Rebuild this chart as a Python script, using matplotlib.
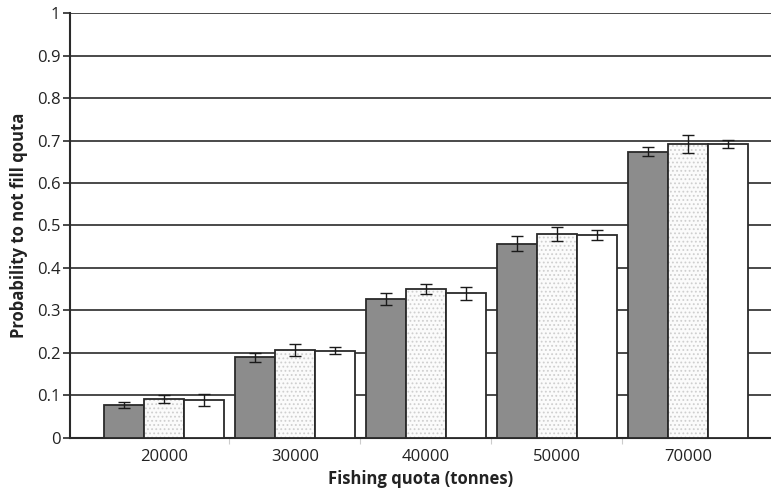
import matplotlib
matplotlib.use('Agg')
import matplotlib.pyplot as plt
import numpy as np

plt.rcParams['font.family'] = ['Open Sans', 'DejaVu Sans']
plt.rcParams['hatch.linewidth'] = 0.8

quotas = ['20000', '30000', '40000', '50000', '70000']

# three model runs per quota: mean probability and error
dark_vals = [0.077, 0.189, 0.327, 0.457, 0.674]
dark_err = [0.007, 0.0115, 0.014, 0.018, 0.0106]
dotted_vals = [0.091, 0.207, 0.350, 0.479, 0.692]
dotted_err = [0.010, 0.014, 0.011, 0.0165, 0.021]
white_vals = [0.088, 0.205, 0.340, 0.477, 0.692]
white_err = [0.014, 0.008, 0.0145, 0.012, 0.010]

x = np.arange(len(quotas))
w = 0.305

fig = plt.figure(figsize=(7.71, 4.92), dpi=100)
ax = fig.add_axes([0.0908, 0.1104, 0.9092, 0.8626])

ax.set_axisbelow(True)
ax.yaxis.grid(True, color='#3a3a3a', linewidth=1.3)

ekw = dict(ecolor='#1a1a1a', elinewidth=1.0, capsize=4, capthick=1.0)
ax.bar(x - w, dark_vals, w, yerr=dark_err, color='#8c8c8c',
       edgecolor='#2a2a2a', linewidth=1.3, error_kw=ekw, zorder=3)
# light dotted fill first, then the dark outline on top
ax.bar(x, dotted_vals, w, color='#fbfbfb', hatch='....',
       edgecolor='#cfcfcf', linewidth=0, zorder=3)
ax.bar(x, dotted_vals, w, yerr=dotted_err, fill=False,
       edgecolor='#2a2a2a', linewidth=1.3, error_kw=ekw, zorder=3)
ax.bar(x + w, white_vals, w, yerr=white_err, color='white',
       edgecolor='#2a2a2a', linewidth=1.3, error_kw=ekw, zorder=3)

ax.set_ylim(0, 1)
ax.set_yticks(np.arange(0, 1.01, 0.1))
ax.set_yticklabels(['0'] + ['%.1f' % v for v in np.arange(0.1, 0.95, 0.1)] + ['1'])
ax.set_xlim(-0.716, 4.635)
ax.set_xticks(x)
ax.set_xticklabels(quotas)
ax.set_xticks(np.arange(0.5, 4.0, 1.0), minor=True)

ax.tick_params(axis='y', direction='out', length=5, width=1.2, color='#2a2a2a',
               labelsize=12, labelcolor='#222222', pad=2)
ax.tick_params(axis='x', which='major', length=0, labelsize=12,
               labelcolor='#222222', pad=8)
ax.tick_params(axis='x', which='minor', direction='out', length=4, width=0.8,
               color='#cccccc')

for s in ['top', 'right']:
    ax.spines[s].set_visible(False)
for s in ['left', 'bottom']:
    ax.spines[s].set_color('#2a2a2a')
    ax.spines[s].set_linewidth(1.5)

ax.set_xlabel('Fishing quota (tonnes)', fontsize=12, fontweight='bold',
              color='#222222', labelpad=4)
ax.set_ylabel('Probability to not fill qouta', fontsize=12, fontweight='bold',
              color='#222222', labelpad=6)

fig.savefig('out.png', dpi=100)
